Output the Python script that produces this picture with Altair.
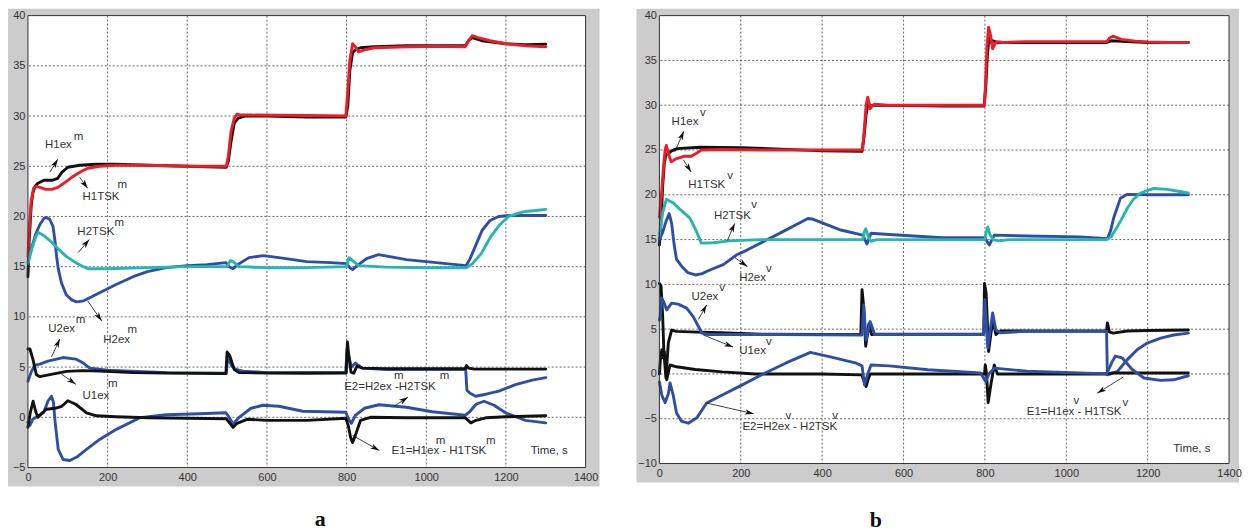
import math
import altair as alt
import pandas as pd

# ---------------- axes / ticks ----------------
XMAX = 1400
X_TICKS = [0, 200, 400, 600, 800, 1000, 1200, 1400]
A_Y_TICKS = [-5, 0, 5, 10, 15, 20, 25, 30, 35, 40]
B_Y_TICKS = [-10, -5, 0, 5, 10, 15, 20, 25, 30, 35, 40]

# ---------------- panel a series ----------------
A_H1EX_T = [0, 3, 8, 12, 18, 25, 40, 60, 75, 85, 100, 130, 170, 220, 300, 400, 498, 503, 510, 518, 528, 545, 600, 700, 798, 803, 808, 815, 822, 835, 870, 950, 1050, 1098, 1106, 1115, 1140, 1200, 1250, 1300]
A_H1EX_V = [14, 17.5, 21, 22.3, 23.0, 23.3, 23.6, 23.6, 23.8, 24.4, 24.9, 25.1, 25.2, 25.2, 25.1, 25.0, 24.9, 25.5, 27.5, 29.3, 29.8, 30.0, 30.0, 29.9, 29.9, 31, 34.5, 36.3, 36.6, 36.8, 36.9, 37.0, 37.0, 37.0, 37.5, 37.8, 37.5, 37.2, 37.1, 37.15]

A_H1TSK_T = [0, 3, 8, 14, 20, 30, 45, 60, 75, 90, 110, 130, 150, 180, 220, 300, 400, 498, 503, 510, 518, 525, 535, 560, 700, 798, 803, 808, 815, 822, 830, 845, 870, 950, 1050, 1098, 1105, 1115, 1130, 1160, 1200, 1250, 1300]
A_H1TSK_V = [16, 18.5, 21.5, 22.8, 23.0, 22.9, 22.7, 22.7, 22.9, 23.3, 23.9, 24.4, 24.8, 25.0, 25.1, 25.1, 25.0, 25.0, 26, 28.5, 29.8, 30.2, 30.1, 30.1, 30.05, 30.0, 32.5, 35.5, 37.2, 36.9, 36.4, 36.6, 36.8, 36.9, 36.95, 36.9, 37.4, 38.0, 37.8, 37.5, 37.2, 37.0, 36.9]

A_H2EX_T = [0, 10, 20, 30, 40, 47, 55, 63, 68, 72, 76, 84, 96, 110, 122, 140, 180, 220, 264, 300, 347, 400, 450, 497, 505, 515, 530, 555, 590, 630, 700, 760, 800, 808, 815, 830, 850, 880, 950, 1050, 1100, 1110, 1125, 1140, 1160, 1182, 1210, 1250, 1300]
A_H2EX_V = [15.5, 17, 18.3, 19.2, 19.8, 19.9, 19.7, 19.0, 17.5, 16.0, 14.8, 13.4, 12.2, 11.7, 11.5, 11.6, 12.4, 13.2, 14.0, 14.5, 14.9, 15.1, 15.2, 15.4, 15.0, 14.8, 15.3, 15.9, 16.1, 15.9, 15.5, 15.4, 15.3, 14.9, 14.7, 15.2, 15.8, 16.2, 15.7, 15.3, 15.1, 15.8, 17.2, 18.6, 19.6, 20.0, 20.1, 20.1, 20.1]

A_H2TSK_T = [0, 10, 20, 26, 40, 55, 75, 97, 120, 139, 151, 200, 300, 400, 500, 508, 515, 530, 600, 700, 800, 806, 815, 830, 900, 1000, 1100, 1116, 1138, 1162, 1185, 1207, 1230, 1249, 1275, 1300]
A_H2TSK_V = [15.3, 16.8, 18.0, 18.4, 18.1, 17.6, 16.8, 16.0, 15.4, 15.0, 14.8, 14.8, 14.9, 15.0, 15.0, 15.6, 15.5, 15.0, 14.9, 14.9, 15.0, 15.9, 15.6, 15.1, 14.95, 14.9, 14.9, 15.3, 16.3, 18.0, 19.2, 20.0, 20.3, 20.5, 20.6, 20.7]

A_U2EX_T = [0, 8, 17, 30, 50, 88, 120, 139, 155, 200, 260, 350, 498, 501, 506, 512, 520, 540, 600, 798, 801, 806, 812, 822, 840, 900, 1000, 1099, 1102, 1110, 1124, 1150, 1182, 1224, 1266, 1300]
A_U2EX_V = [3.6, 4.5, 5.2, 5.3, 5.6, 5.95, 5.8, 5.4, 4.9, 4.7, 4.6, 4.45, 4.4, 5.9, 5.6, 5.1, 4.8, 4.6, 4.45, 4.5, 6.8, 6.0, 5.0, 5.4, 4.9, 4.75, 4.75, 4.75, 2.7, 2.4, 2.1, 2.3, 2.6, 3.25, 3.7, 3.95]

A_U1EX_T = [0, 5, 13, 21, 30, 55, 97, 139, 180, 264, 347, 497, 500, 506, 518, 530, 600, 700, 799, 802, 806, 811, 818, 826, 840, 900, 1000, 1098, 1101, 1106, 1120, 1200, 1300]
A_U1EX_V = [6.8, 6.8, 5.7, 4.25, 4.05, 4.25, 4.57, 4.65, 4.6, 4.45, 4.4, 4.35, 6.5, 6.2, 4.75, 4.45, 4.4, 4.38, 4.4, 7.5, 6.0, 4.5, 4.4, 5.1, 4.9, 4.85, 4.85, 4.85, 5.15, 4.9, 4.8, 4.8, 4.8]

A_E2_T = [0, 5, 12, 25, 40, 50, 59, 64, 68, 76, 88, 105, 125, 147, 180, 222, 281, 347, 430, 497, 505, 515, 530, 560, 590, 630, 690, 798, 805, 812, 822, 845, 881, 950, 1015, 1098, 1110, 1125, 1145, 1170, 1199, 1249, 1300]
A_E2_V = [-0.5, -0.8, -0.2, 0.1, 0.5, 1.6, 2.1, 1.5, -0.4, -3.2, -4.2, -4.3, -3.9, -3.2, -2.2, -1.2, -0.05, 0.25, 0.35, 0.45, 0.0, -0.7, 0.0, 0.9, 1.2, 1.1, 0.6, 0.5, -0.2, -0.6, 0.2, 0.9, 1.25, 1.0, 0.55, 0.2, 0.6, 1.3, 1.6, 1.2, 0.45, -0.3, -0.55]

A_E1_T = [0, 6, 13, 20, 25, 35, 46, 68, 85, 100, 120, 147, 172, 220, 300, 400, 498, 505, 515, 525, 550, 600, 700, 798, 804, 810, 815, 822, 835, 860, 950, 1050, 1098, 1105, 1112, 1125, 1150, 1200, 1250, 1300]
A_E1_V = [-1.0, 0.5, 1.6, 0.5, 0.0, 0.4, 0.8, 0.9, 1.1, 1.65, 1.3, 0.45, 0.15, 0.05, -0.05, -0.1, -0.15, -0.5, -1.0, -0.6, -0.2, -0.3, -0.3, -0.1, -0.8, -2.0, -2.5, -1.8, -0.3, 0.0, -0.05, -0.05, -0.05, -0.3, -0.55, -0.3, -0.05, 0.05, 0.1, 0.15]

# ---------------- panel b series ----------------
B_H1EX_T = [0, 4, 8, 12, 16, 22, 30, 43, 100, 200, 300, 400, 498, 503, 508, 513, 520, 530, 600, 700, 798, 802, 806, 810, 815, 820, 830, 900, 1000, 1100, 1110, 1200, 1300]
B_H1EX_V = [14.4, 17, 21, 23.5, 24.5, 24.6, 24.9, 25.15, 25.3, 25.25, 25.1, 24.9, 24.85, 26.5, 29.0, 30.2, 29.9, 30.0, 29.95, 29.9, 29.9, 32, 35.5, 37.5, 37.0, 37.2, 37.0, 37.0, 37.0, 37.0, 37.2, 37.0, 37.0]

B_H1TSK_T = [0, 5, 10, 14, 17, 20, 24, 29, 40, 60, 78, 90, 103, 150, 250, 400, 499, 503, 508, 512, 515, 518, 522, 528, 560, 700, 799, 802, 805, 809, 814, 819, 824, 830, 845, 900, 1000, 1100, 1106, 1115, 1135, 1170, 1200, 1250, 1300]
B_H1TSK_V = [17.5, 20, 23, 25.0, 25.5, 25.0, 24.3, 23.7, 24.0, 24.3, 24.3, 24.6, 25.0, 25.05, 25.0, 25.0, 25.0, 27, 30.0, 30.9, 30.3, 29.6, 29.9, 30.1, 30.0, 30.0, 30.0, 33, 36.5, 38.7, 37.8, 36.3, 36.8, 37.1, 37.0, 37.1, 37.1, 37.1, 37.5, 37.7, 37.35, 37.15, 37.05, 37.0, 37.0]

B_H2EX_T = [0, 8, 16, 24, 30, 36, 42, 55, 70, 88, 105, 124, 157, 190, 214, 263, 300, 365, 375, 443, 500, 505, 510, 520, 555, 696, 800, 805, 811, 823, 904, 1035, 1101, 1109, 1117, 1133, 1150, 1200, 1300]
B_H2EX_V = [15.0, 15.8, 17.0, 17.9, 16.8, 14.5, 12.8, 12.0, 11.3, 11.05, 11.2, 11.6, 12.2, 13.3, 13.8, 14.95, 15.8, 17.35, 17.3, 16.1, 15.5, 15.0, 14.5, 15.7, 15.6, 15.2, 15.2, 14.8, 14.4, 15.5, 15.4, 15.3, 15.1, 16.0, 17.5, 19.6, 20.05, 20.0, 20.0]

B_H2TSK_T = [0, 8, 17, 25, 34, 50, 75, 90, 103, 132, 173, 250, 400, 500, 503, 507, 513, 520, 535, 600, 800, 803, 807, 812, 820, 835, 860, 1000, 1100, 1110, 1121, 1135, 1150, 1165, 1183, 1200, 1215, 1248, 1275, 1300]
B_H2TSK_V = [15.5, 18.0, 19.5, 19.3, 19.1, 18.4, 17.4, 16.0, 14.6, 14.65, 14.85, 15.0, 15.0, 15.0, 15.8, 16.2, 15.4, 14.8, 15.0, 15.0, 15.0, 15.8, 16.4, 15.6, 15.0, 14.85, 15.0, 15.0, 15.0, 15.3, 16.1, 17.2, 18.5, 19.5, 20.2, 20.5, 20.7, 20.6, 20.4, 20.2]

B_U2EX_T = [0, 2, 6, 12, 18, 30, 46, 67, 83, 96, 104, 120, 300, 498, 502, 508, 518, 529, 540, 700, 797, 800, 807, 819, 827, 839, 900, 1000, 1099, 1101, 1110, 1126, 1150, 1174, 1199, 1232, 1264, 1300]
B_U2EX_V = [6.0, 6.5, 8.45, 7.9, 7.15, 7.9, 7.8, 7.35, 6.4, 5.3, 4.55, 4.4, 4.4, 4.35, 7.7, 3.8, 5.85, 4.4, 4.4, 4.4, 4.4, 8.3, 2.9, 6.8, 4.9, 4.6, 4.75, 4.75, 4.75, -0.1, 0.0, 0.3, 1.6, 2.7, 3.45, 4.0, 4.35, 4.55]

B_U1EX_T = [0, 4, 8, 11, 16, 22, 30, 42, 75, 150, 250, 400, 495, 498, 502, 507, 515, 521, 535, 700, 797, 799, 803, 809, 819, 827, 839, 900, 1000, 1099, 1101, 1106, 1115, 1150, 1200, 1300]
B_U1EX_V = [10.1, 9.8, 6.4, 2.4, -0.45, 3.5, 4.9, 4.75, 4.7, 4.6, 4.45, 4.4, 4.4, 9.4, 7.5, 3.1, 5.6, 4.4, 4.45, 4.45, 4.45, 10.1, 9.0, 2.5, 6.0, 4.4, 4.8, 4.8, 4.8, 4.8, 5.7, 4.7, 4.55, 4.8, 4.85, 4.9]

B_E1_T = [0, 3, 6, 9, 12, 18, 26, 42, 88, 154, 235, 400, 497, 503, 508, 513, 518, 600, 799, 801, 804, 808, 815, 823, 831, 900, 1100, 1110, 1300]
B_E1_V = [0.0, 2.0, 2.7, 1.8, 2.5, -0.65, 1.0, 0.8, 0.5, 0.23, 0.0, 0.0, -0.1, -0.8, -1.4, -0.6, 0.0, 0.0, 0.0, 1.0, 0.0, -3.2, -1.1, 1.0, 0.0, 0.0, 0.0, 0.1, 0.1]

B_E2_T = [0, 6, 14, 22, 26, 34, 42, 55, 71, 92, 116, 157, 200, 255, 310, 371, 420, 484, 498, 504, 512, 520, 565, 660, 789, 802, 810, 823, 904, 1067, 1100, 1113, 1121, 1137, 1162, 1191, 1232, 1264, 1300]
B_E2_V = [-0.9, -2.4, -3.2, -2.2, -1.0, -2.4, -4.35, -5.3, -5.5, -4.9, -3.25, -2.3, -1.3, 0.0, 1.2, 2.4, 1.9, 1.2, 0.9, -1.2, 0.0, 1.0, 0.9, 0.47, 0.1, -0.84, 0.0, 0.65, 0.3, 0.06, 0.05, 1.4, 2.0, 1.8, 0.5, -0.45, -0.72, -0.65, -0.2]

# ---------------- annotations ----------------
A_TEXT = ["H1ex", "H1TSK", "H2TSK", "U2ex", "H2ex", "U1ex", "E2=H2ex -H2TSK", "E1=H1ex - H1TSK", "Time, s"]
A_TEXT_T = [43, 137, 124, 51, 189, 137, 794, 913, 1262]
A_TEXT_V = [26.8, 21.6, 18.15, 8.5, 7.4, 1.85, 2.7, -3.65, -3.65]
A_SUP = ["m"] * 10
A_SUP_T = [115, 225, 217, 120, 250, 201, 919, 1034, 1024, 1150]
A_SUP_V = [27.6, 22.8, 19.1, 9.4, 8.4, 3.0, 3.8, 3.8, -2.7, -2.7]
A_ARR_T0 = [55, 130, 126, 59, 150, 84, 919, 815]
A_ARR_V0 = [24.4, 23.9, 16.4, 6.0, 11.6, 4.3, 1.1, -1.8]
A_ARR_T1 = [75, 150, 154, 80, 185, 120, 954, 882]
A_ARR_V1 = [25.7, 22.8, 17.7, 7.8, 9.6, 3.3, 2.0, -3.3]

B_TEXT = ["H1ex", "H1TSK", "H2TSK", "H2ex", "U2ex", "U1ex", "E2=H2ex - H2TSK", "E1=H1ex - H1TSK", "Time, s"]
B_TEXT_T = [30, 71, 134, 196, 79, 196, 204, 903, 1263]
B_TEXT_V = [27.75, 20.8, 17.35, 10.4, 8.2, 2.2, -6.3, -4.6, -8.75]
B_SUP = ["v"] * 10
B_SUP_T = [100, 167, 226, 262, 147, 262, 310, 425, 1018, 1138]
B_SUP_V = [28.85, 21.8, 18.5, 11.4, 9.3, 3.25, -5.0, -5.0, -3.4, -3.6]
B_ARR_T0 = [38, 59, 167, 185, 96, 108, 116, 1140]
B_ARR_V0 = [24.8, 23.9, 14.9, 13.0, 6.1, 4.35, -3.25, -0.35]
B_ARR_T1 = [60, 78, 185, 216, 116, 181, 232, 1076]
B_ARR_V1 = [27.1, 22.55, 16.8, 12.0, 7.7, 3.0, -4.45, -2.15]

# ---------------- styling ----------------
BLACK = "#111111"
RED = "#ee1d25"
BLUE = "#2f4fa7"
TEAL = "#27b5b1"
GRAY = "#cccccc"
FONT = "Liberation Sans"
TXT = "#333333"
ARROW_PATH = "M0,0L0.55,1.8L0,1.3L-0.55,1.8Z"

A_SERIES = [(A_H1EX_T, A_H1EX_V, BLACK), (A_H1TSK_T, A_H1TSK_V, RED),
            (A_H2EX_T, A_H2EX_V, BLUE), (A_H2TSK_T, A_H2TSK_V, TEAL),
            (A_U2EX_T, A_U2EX_V, BLUE), (A_U1EX_T, A_U1EX_V, BLACK),
            (A_E2_T, A_E2_V, BLUE), (A_E1_T, A_E1_V, BLACK)]
B_SERIES = [(B_H1EX_T, B_H1EX_V, BLACK), (B_H1TSK_T, B_H1TSK_V, RED),
            (B_H2EX_T, B_H2EX_V, BLUE), (B_H2TSK_T, B_H2TSK_V, TEAL),
            (B_U1EX_T, B_U1EX_V, BLACK), (B_U2EX_T, B_U2EX_V, BLUE),
            (B_E1_T, B_E1_V, BLACK), (B_E2_T, B_E2_V, BLUE)]

ONE = pd.DataFrame({"k": [0]})


def panel(series, texts, arrows, W, H, ymin, ymax, yticks, frame, letter, letter_xy):
    xs = alt.Scale(domain=[0, XMAX], nice=False, zero=False)
    ys = alt.Scale(domain=[ymin, ymax], nice=False, zero=False)
    xax = alt.Axis(values=X_TICKS, grid=False, domain=False, ticks=False, labelFlush=False,
                   labelOverlap=False, labelPadding=4, labelFontSize=11, labelColor=TXT,
                   labelFont=FONT, title=None, zindex=1, format="d")
    yax = alt.Axis(values=yticks, grid=False, domain=False, ticks=False, labelFlush=False,
                   labelOverlap=False, labelPadding=3, labelFontSize=11, labelColor=TXT,
                   labelFont=FONT, title=None, zindex=1, format="d")

    def X(f):
        return alt.X(f, type="quantitative", scale=xs, axis=xax)

    def Y(f):
        return alt.Y(f, type="quantitative", scale=ys, axis=yax)

    fl, fr, ft, fb = frame
    layers = []
    layers.append(alt.Chart(ONE).mark_rect(color=GRAY).encode(
        x=alt.value(-fl), x2=alt.value(W + fr), y=alt.value(-ft), y2=alt.value(H + fb)))
    layers.append(alt.Chart(ONE).mark_rect(color="white").encode(
        x=alt.value(0), x2=alt.value(W), y=alt.value(0), y2=alt.value(H)))
    layers.append(alt.Chart(pd.DataFrame({"t": X_TICKS[1:-1]})).mark_rule(
        color="#444444", strokeDash=[2, 2], strokeWidth=0.8).encode(x=X("t")))
    layers.append(alt.Chart(pd.DataFrame({"v": yticks[1:-1]})).mark_rule(
        color="#444444", strokeDash=[2, 2], strokeWidth=0.8).encode(y=Y("v")))
    for ts, vs, col in series:
        df = pd.DataFrame({"t": ts, "v": vs, "i": list(range(len(ts)))})
        layers.append(alt.Chart(df).mark_line(color=col, strokeWidth=2.9, strokeJoin="round",
                                              strokeCap="round").encode(
            x=X("t"), y=Y("v"), order=alt.Order("i:Q")))

    t0, v0, t1, v1 = arrows
    sx = W / XMAX
    sy = H / (ymax - ymin)
    ang = []
    for a, b, c, d in zip(t0, v0, t1, v1):
        dx = (c - a) * sx
        dy = -(d - b) * sy
        ang.append(math.degrees(math.atan2(dx, -dy)) % 360)
    adf = pd.DataFrame({"t0": t0, "v0": v0, "t1": t1, "v1": v1, "ang": ang})
    layers.append(alt.Chart(adf).mark_rule(color=BLACK, strokeWidth=0.8).encode(
        x=X("t0"), y=Y("v0"), x2=alt.X2("t1"), y2=alt.Y2("v1")))
    layers.append(alt.Chart(adf).mark_point(shape=ARROW_PATH, filled=True, size=100, color=BLACK,
                                            opacity=1).encode(
        x=X("t1"), y=Y("v1"), angle=alt.Angle("ang:Q", scale=None)))

    lab, lt, lv, sup, st, sv = texts
    layers.append(alt.Chart(pd.DataFrame({"t": lt, "v": lv, "s": lab})).mark_text(
        align="left", baseline="alphabetic", font=FONT, fontSize=11.5, color=TXT).encode(
        x=X("t"), y=Y("v"), text="s:N"))
    layers.append(alt.Chart(pd.DataFrame({"t": st, "v": sv, "s": sup})).mark_text(
        align="left", baseline="alphabetic", font=FONT, fontSize=11.5, color=TXT).encode(
        x=X("t"), y=Y("v"), text="s:N"))

    layers.append(alt.Chart(ONE).mark_rect(filled=False, stroke="#333333", strokeWidth=1).encode(
        x=alt.value(0), x2=alt.value(W), y=alt.value(0), y2=alt.value(H)))
    layers.append(alt.Chart(ONE).mark_text(text=letter, font="Liberation Serif", fontSize=22,
                                           fontWeight="bold", color=BLACK, align="center",
                                           baseline="alphabetic").encode(
        x=alt.value(letter_xy[0]), y=alt.value(letter_xy[1])))
    return alt.layer(*layers).properties(width=W, height=H)


pa = panel(A_SERIES,
           (A_TEXT, A_TEXT_T, A_TEXT_V, A_SUP, A_SUP_T, A_SUP_V),
           (A_ARR_T0, A_ARR_V0, A_ARR_T1, A_ARR_V1),
           559, 453, -5, 40, A_Y_TICKS, (20, 14, 7, 19), "a", (293, 512))
pb = panel(B_SERIES,
           (B_TEXT, B_TEXT_T, B_TEXT_V, B_SUP, B_SUP_T, B_SUP_V),
           (B_ARR_T0, B_ARR_V0, B_ARR_T1, B_ARR_V1),
           571, 449, -10, 40, B_Y_TICKS, (23, 10, 7, 19), "b", (217, 513))

chart = alt.hconcat(pa, pb, spacing=74, bounds="flush").properties(
    padding=0, background="white").configure_view(stroke=None)

chart.save("out.html", embed_options={"renderer": "svg", "actions": False})
